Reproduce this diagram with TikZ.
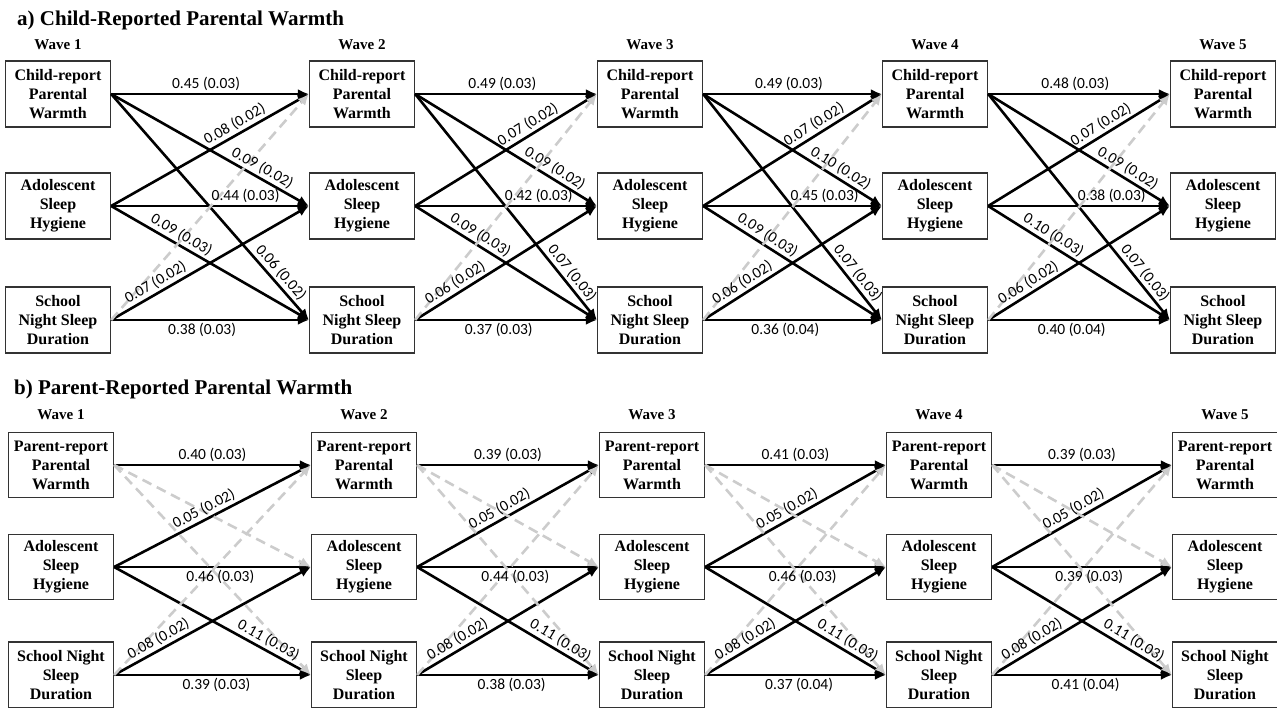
\documentclass[tikz,border=0pt]{standalone}
\usepackage{fontspec}
\setmainfont{Liberation Serif}
\newfontfamily\labfont{Carlito}
\usetikzlibrary{arrows.meta}
\begin{document}
\begin{tikzpicture}[x=1pt,y=-1pt,
  box/.style={draw=black!80, line width=1.3pt, minimum width=105pt, minimum height=66pt,
    inner sep=0pt, align=center, font=\bfseries\fontsize{16}{19}\selectfont},
  wave/.style={font=\bfseries\fontsize{15}{18}\selectfont},
  ttl/.style={font=\bfseries\fontsize{21}{25}\selectfont, anchor=base west, inner sep=0pt},
  pth/.style={line width=2.6pt, -{Latex[length=11pt,width=10pt]}},
  ns/.style={line width=2.6pt, draw=black!20, dash pattern=on 10pt off 6pt,
    -{Latex[length=11pt,width=10pt]}},
  lb/.style={font=\labfont\fontsize{15.5}{18}\selectfont, sloped}]
\useasboundingbox (0,0) rectangle (1277,707);

% ---------- Panel a ----------
\node[ttl] (ta) at (17,25) {a) Child-Reported Parental Warmth};
\foreach \i/\x in {1/58,2/362,3/650,4/935,5/1223}{
  \node[wave] (aw\i) at (\x,45) {Wave \i};
  \node[box] (at\i) at (\x,94) {Child-report\\Parental\\Warmth};
  \node[box] (am\i) at (\x,206) {Adolescent\\Sleep\\Hygiene};
  \node[box] (ab\i) at (\x,320) {School\\Night Sleep\\Duration};
}
\foreach \s/\t/\qa/\qb/\qc/\qd/\qe/\qf/\qg/\qh in {
  1/2/0.45 (0.03)/0.08 (0.02)/0.09 (0.02)/0.44 (0.03)/0.09 (0.03)/0.06 (0.02)/0.07 (0.02)/0.38 (0.03),
  2/3/0.49 (0.03)/0.07 (0.02)/0.09 (0.02)/0.42 (0.03)/0.09 (0.03)/0.07 (0.03)/0.06 (0.02)/0.37 (0.03),
  3/4/0.49 (0.03)/0.07 (0.02)/0.10 (0.02)/0.45 (0.03)/0.09 (0.03)/0.07 (0.03)/0.06 (0.02)/0.36 (0.04),
  4/5/0.48 (0.03)/0.07 (0.02)/0.09 (0.02)/0.38 (0.03)/0.10 (0.03)/0.07 (0.03)/0.06 (0.02)/0.40 (0.04)}{
  \draw[pth] (at\s.east) -- (at\t.west);
  \draw[pth] (am\s.east) -- (at\t.west);
  \draw[pth] (at\s.east) -- (am\t.west);
  \draw[pth] (am\s.east) -- (am\t.west);
  \draw[pth] (am\s.east) -- (ab\t.west);
  \draw[pth] (at\s.east) -- (ab\t.west);
  \draw[pth] (ab\s.east) -- (am\t.west);
  \draw[pth] (ab\s.east) -- (ab\t.west);
  \draw[ns] (ab\s.east) -- (at\t.west);
  \path (at\s.east) -- node[lb,above,pos=.48]{\qa} (at\t.west);
  \path (am\s.east) -- node[lb,above,pos=.65]{\qb} (at\t.west);
  \path (at\s.east) -- node[lb,above,pos=.74]{\qc} (am\t.west);
  \path (am\s.east) -- node[lb,above,pos=.68]{\qd} (am\t.west);
  \path (am\s.east) -- node[lb,above,pos=.33]{\qe} (ab\t.west);
  \path (at\s.east) -- node[lb,above,pos=.82]{\qf} (ab\t.west);
  \path (ab\s.east) -- node[lb,above,pos=.25]{\qg} (am\t.west);
  \path (ab\s.east) -- node[lb,below,pos=.46]{\qh} (ab\t.west);
}

% ---------- Panel b ----------
\node[ttl] (tb) at (14,394) {b) Parent-Reported Parental Warmth};
\foreach \i/\x in {1/61,2/364,3/652,4/939,5/1225}{
  \node[wave] (bw\i) at (\x,415) {Wave \i};
  \node[box, minimum height=65pt] (bt\i) at (\x,465) {Parent-report\\Parental\\Warmth};
  \node[box, minimum height=65pt] (bm\i) at (\x,567) {Adolescent\\Sleep\\Hygiene};
  \node[box] (bb\i) at (\x,675) {School Night\\Sleep\\Duration};
}
\foreach \s/\t/\qa/\qb/\qc/\qd/\qe/\qf in {
  1/2/0.40 (0.03)/0.05 (0.02)/0.46 (0.03)/0.11 (0.03)/0.08 (0.02)/0.39 (0.03),
  2/3/0.39 (0.03)/0.05 (0.02)/0.44 (0.03)/0.11 (0.03)/0.08 (0.02)/0.38 (0.03),
  3/4/0.41 (0.03)/0.05 (0.02)/0.46 (0.03)/0.11 (0.03)/0.08 (0.02)/0.37 (0.04),
  4/5/0.39 (0.03)/0.05 (0.02)/0.39 (0.03)/0.11 (0.03)/0.08 (0.02)/0.41 (0.04)}{
  \draw[pth] (bt\s.east) -- (bt\t.west);
  \draw[pth] (bm\s.east) -- (bt\t.west);
  \draw[pth] (bm\s.east) -- (bm\t.west);
  \draw[pth] (bm\s.east) -- (bb\t.west);
  \draw[pth] (bb\s.east) -- (bm\t.west);
  \draw[pth] (bb\s.east) -- (bb\t.west);
  \draw[ns] (bt\s.east) -- (bm\t.west);
  \draw[ns] (bt\s.east) -- (bb\t.west);
  \draw[ns] (bb\s.east) -- (bt\t.west);
  \path (bt\s.east) -- node[lb,above,pos=.5]{\qa} (bt\t.west);
  \path (bm\s.east) -- node[lb,above,pos=.48]{\qb} (bt\t.west);
  \path (bm\s.east) -- node[lb,below,pos=.54]{\qc} (bm\t.west);
  \path (bm\s.east) -- node[lb,above,pos=.76]{\qd} (bb\t.west);
  \path (bb\s.east) -- node[lb,above,pos=.25]{\qe} (bm\t.west);
  \path (bb\s.east) -- node[lb,below,pos=.52]{\qf} (bb\t.west);
}
\end{tikzpicture}
\end{document}
